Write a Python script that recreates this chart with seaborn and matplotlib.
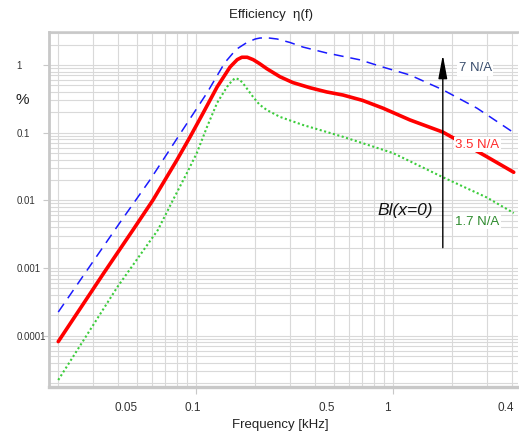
import numpy as np
import pandas as pd
import matplotlib
matplotlib.use("Agg")
import matplotlib.pyplot as plt
import matplotlib.transforms as mtransforms
import seaborn as sns

# ---- data (frequency in kHz, efficiency in %) ----
f_7 = [0.02, 0.041, 0.0584, 0.0811, 0.1137, 0.14, 0.16, 0.1815, 0.2, 0.211, 0.23, 0.258,
       0.3, 0.349, 0.462, 0.68, 0.89, 1.22, 1.79, 2.67, 4.1]
eta_7 = [2.24e-4, 4.64e-3, 0.02, 0.0864, 0.386, 1.08, 1.70, 2.15, 2.42, 2.5, 2.52, 2.42,
         2.15, 1.84, 1.50, 1.19, 0.93, 0.71, 0.43, 0.23, 0.10]

f_35 = [0.02, 0.0341, 0.0479, 0.0605, 0.0801, 0.0933, 0.1087, 0.128, 0.149, 0.162,
        0.171, 0.182, 0.195, 0.21, 0.229, 0.267, 0.31, 0.38, 0.46, 0.557, 0.7, 0.89, 1.22,
        1.79, 2.3, 3.0, 4.1]
eta_35 = [8.2e-5, 8.5e-4, 3.66e-3, 0.0101, 0.0396, 0.0864, 0.195, 0.473, 0.934, 1.20,
          1.30, 1.30, 1.20, 1.05, 0.88, 0.67, 0.55, 0.46, 0.40, 0.36, 0.30, 0.23, 0.154,
          0.102, 0.068, 0.044, 0.026]

f_17 = [0.02, 0.04, 0.0641, 0.0764, 0.090, 0.101, 0.1137, 0.128, 0.1436, 0.152, 0.158,
        0.166, 0.173, 0.195, 0.21, 0.229, 0.267, 0.349, 0.557, 1.0, 1.79, 3.0, 4.1]
eta_17 = [2.22e-5, 5.3e-4, 3.66e-3, 0.0101, 0.0254, 0.0501, 0.121, 0.275, 0.473, 0.58, 0.64,
          0.61, 0.54, 0.337, 0.26, 0.216, 0.171, 0.13, 0.087, 0.05, 0.022, 0.011, 0.0065]

series_labels = ["7 N/A", "3.5 N/A", "1.7 N/A"]
x_tick_vals = [0.05, 0.1, 0.5, 1, 4]
x_tick_labels = ["0.05", "0.1", "0.5", "1", "0.4"]
y_tick_vals = [1, 0.1, 0.01, 0.001, 0.0001]
y_tick_labels = ["1", "0.1", "0.01", "0.001", "0.0001"]
arrow_f = 1.79
arrow_eta = (0.002, 1.41)

# ---- style ----
sns.set_style("white")
FONT = ["Liberation Sans", "DejaVu Sans"]
plt.rcParams["font.family"] = FONT

fig = plt.figure(figsize=(5.19, 4.34), dpi=100)
ax = fig.add_axes([49 / 519, 1 - 387 / 434, 469 / 519, 355 / 434])

d7 = pd.DataFrame({"f": f_7, "eta": eta_7})
d35 = pd.DataFrame({"f": f_35, "eta": eta_35})
d17 = pd.DataFrame({"f": f_17, "eta": eta_17})

sns.lineplot(data=d7, x="f", y="eta", ax=ax, color="#1a1aff", lw=1.1,
             linestyle=(0, (6.5, 4.5)), zorder=3)
sns.lineplot(data=d35, x="f", y="eta", ax=ax, color="#ff0000", lw=2.6, zorder=4)
sns.lineplot(data=d17, x="f", y="eta", ax=ax, color="#3ccc3c", lw=1.5,
             linestyle=(0, (1, 1.2)), zorder=3)

ax.set_xscale("log")
ax.set_yscale("log")
ax.set_xlim(0.01795, 4.31)
ax.set_ylim(1.75e-5, 3.07)

# grid
ax.grid(True, which="major", color="#d9d9d9", lw=0.8)
ax.grid(True, which="minor", color="#d9d9d9", lw=0.8)
ax.set_axisbelow(True)

# ticks
ax.set_xticks(x_tick_vals)
ax.set_xticklabels(x_tick_labels)
ax.set_yticks(y_tick_vals)
ax.set_yticklabels(y_tick_labels)
ax.tick_params(axis="x", which="major", length=5, width=0.8, color="#c8c8c8",
               pad=6, labelsize=8.5, labelcolor="#333333", bottom=True)
ax.tick_params(axis="y", which="major", length=4.5, width=0.8, color="#c8c8c8",
               pad=19, labelsize=7, labelcolor="#333333", left=True)
ax.tick_params(which="minor", length=0)
for lab in ax.get_yticklabels():
    lab.set_horizontalalignment("left")
x_shift_px = [-11, -3, -7, -6, -6]
for val, t, dx in zip(x_tick_vals, ax.xaxis.get_major_ticks(), x_shift_px):
    if val not in (0.1, 1):
        t.tick1line.set_visible(False)
    t.label1.set_transform(t.label1.get_transform() +
                           mtransforms.ScaledTranslation(dx / 100, 0, fig.dpi_scale_trans))

# spines
for s in ["left", "bottom", "top"]:
    ax.spines[s].set_visible(True)
    ax.spines[s].set_color("#c8c8c8")
ax.spines["left"].set_linewidth(2.0)
ax.spines["bottom"].set_linewidth(2.4)
ax.spines["top"].set_linewidth(1.8)
ax.spines["right"].set_visible(False)

# labels
ax.set_title("Efficiency  η(f)", x=(271 - 49) / 469, pad=10, fontsize=9.5,
             color="#222222")
ax.set_xlabel("Frequency [kHz]", fontsize=9.5, color="#222222", va="center")
ax.xaxis.set_label_coords((280 - 49) / 469, (387 - 425) / 355)
ax.set_ylabel("%", rotation=0, fontsize=11, color="#222222", va="center", ha="center")
ax.yaxis.set_label_coords((22 - 49) / 469, (387 - 100) / 355)

# arrow
ax.annotate("", xy=(arrow_f, arrow_eta[1]), xytext=(arrow_f, arrow_eta[0]),
            arrowprops=dict(arrowstyle="-|>,head_length=0.8,head_width=0.15",
                            color="black", lw=1.0, mutation_scale=18,
                            shrinkA=0, shrinkB=0), zorder=5)

# text annotations
box = dict(facecolor="white", edgecolor="none", pad=1.0)
ax.text(2.61, 0.90, series_labels[0], color="#3b4f6e", fontsize=9.5,
        ha="center", va="center", bbox=box, zorder=6)
ax.text(2.67, 0.066, series_labels[1], color="#ff2a2a", fontsize=9.5,
        ha="center", va="center", bbox=box, zorder=6)
ax.text(2.67, 0.0048, series_labels[2], color="#2e8b2e", fontsize=9.5,
        ha="center", va="center", bbox=box, zorder=6)
ax.text(1.15, 0.0072, "Bl(x=0)", color="#111111", fontsize=12.5, style="italic",
        ha="center", va="center", zorder=6)

fig.savefig("out.png", dpi=100)
